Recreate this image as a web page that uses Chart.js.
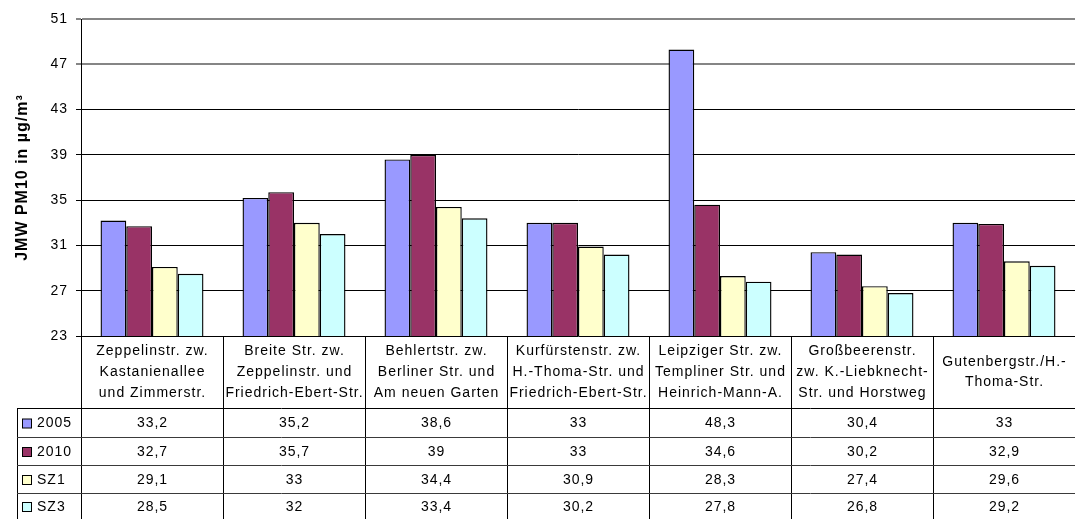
<!DOCTYPE html>
<html>
<head>
<meta charset="utf-8">
<script src="https://cdn.jsdelivr.net/npm/chart.js@4.4.0/dist/chart.umd.min.js"></script>
<style>
  body { margin: 0; background: #fff; }
  #pm10Chart { display: block; }
</style>
</head>
<body>
<canvas id="pm10Chart" width="1075" height="519"></canvas>
<script>
// street sections (multi-line labels as in the table header)
const streets = [
    ['Zeppelinstr. zw.', 'Kastanienallee', 'und Zimmerstr.'],
    ['Breite Str. zw.', 'Zeppelinstr. und', 'Friedrich-Ebert-Str.'],
    ['Behlertstr. zw.', 'Berliner Str. und', 'Am neuen Garten'],
    ['Kurfürstenstr. zw.', 'H.-Thoma-Str. und', 'Friedrich-Ebert-Str.'],
    ['Leipziger Str. zw.', 'Templiner Str. und', 'Heinrich-Mann-A.'],
    ['Großbeerenstr.', 'zw. K.-Liebknecht-', 'Str. und Horstweg'],
    ['Gutenbergstr./H.-', 'Thoma-Str.']
];

const values2005 = [33.2, 35.2, 38.6, 33, 48.3, 30.4, 33];
const values2010 = [32.7, 35.7, 39, 33, 34.6, 30.2, 32.9];
const valuesSZ1 = [29.1, 33, 34.4, 30.9, 28.3, 27.4, 29.6];
const valuesSZ3 = [28.5, 32, 33.4, 30.2, 27.8, 26.8, 29.2];

const yMin = 23;
const yMax = 51;
const yStep = 4;

const COLORS = {
    y2005: '#9999FF',
    y2010: '#993366',
    sz1: '#FFFFCC',
    sz3: '#CCFFFF',
};

const FONT = '"Liberation Sans", Arial, sans-serif';

// excel style spaced text everywhere
const spacingPlugin = {
    id: 'spacing',
    beforeDraw(chart) {
        chart.ctx.letterSpacing = '1px';
    }
};

// data table under the plot, columns follow the x scale
const dataTablePlugin = {
    id: 'dataTable',
    afterDraw(chart) {
        const ctx = chart.ctx;
        const x = chart.scales.x;
        const area = chart.chartArea;
        const colW = (x.right - x.left) / streets.length;
        const headTop = area.bottom;
        const headBottom = 408;
        const rowLines = [408, 437, 465, 493, 519];
        const tableLeft = 17;

        ctx.save();
        ctx.letterSpacing = '1px';

        // grid of the table
        ctx.lineWidth = 1;
        ctx.strokeStyle = '#000';
        for (let i = 0; i <= streets.length; i++) {
            const lx = Math.round(x.left + i * colW) + 0.5;
            ctx.beginPath();
            ctx.moveTo(lx, headTop);
            ctx.lineTo(lx, 519);
            ctx.stroke();
        }
        ctx.beginPath();
        ctx.moveTo(tableLeft + 0.5, headBottom);
        ctx.lineTo(tableLeft + 0.5, 519);
        ctx.stroke();

        rowLines.forEach((ly, i) => {
            ctx.strokeStyle = i === 0 ? '#000' : '#3a3a3a';
            ctx.beginPath();
            ctx.moveTo(tableLeft, ly + 0.5);
            ctx.lineTo(x.right, ly + 0.5);
            ctx.stroke();
        });

        // street labels
        ctx.fillStyle = '#000';
        ctx.font = '14px ' + FONT;
        ctx.textAlign = 'center';
        ctx.textBaseline = 'middle';
        const lineH = 20.7;
        const headMid = (headTop + headBottom) / 2;
        streets.forEach((lines, i) => {
            const cx = x.getPixelForValue(i) + 0.5;
            const y0 = headMid - (lines.length - 1) * lineH / 2;
            lines.forEach((t, j) => ctx.fillText(t, cx, y0 + j * lineH));
        });

        // series rows
        chart.data.datasets.forEach((ds, r) => {
            const cy = (rowLines[r] + rowLines[r + 1]) / 2 + 1;
            ctx.fillStyle = ds.backgroundColor;
            ctx.fillRect(22.5, cy - 4.5, 9, 9);
            ctx.strokeStyle = '#000';
            ctx.strokeRect(22.5, cy - 4.5, 9, 9);

            ctx.fillStyle = '#000';
            ctx.textAlign = 'left';
            ctx.fillText(ds.label, 37, cy);

            ctx.textAlign = 'center';
            ds.data.forEach((v, i) => {
                const cx = x.getPixelForValue(i) + 0.5;
                ctx.fillText(String(v).replace('.', ','), cx, cy);
            });
        });

        ctx.restore();
    }
};

const ctx = document.getElementById('pm10Chart');

const pm10Config = {
    type: 'bar',
    data: {
        labels: streets.map(s => s.join(' ')),
        datasets: [
            { label: '2005', data: values2005, backgroundColor: COLORS.y2005 },
            { label: '2010', data: values2010, backgroundColor: COLORS.y2010 },
            { label: 'SZ1', data: valuesSZ1, backgroundColor: COLORS.sz1 },
            { label: 'SZ3', data: valuesSZ3, backgroundColor: COLORS.sz3 },
        ].map(ds => Object.assign(ds, {
            borderColor: '#000',
            borderWidth: 1.4,
            borderSkipped: 'bottom',
            categoryPercentage: 0.725,
            barPercentage: 1,
        }))
    },
    options: {
        responsive: false,
        animation: false,
        events: [],
        layout: {
            padding: { top: 19, right: 0, bottom: 0, left: 0 }
        },
        plugins: {
            legend: { display: false },
            title: { display: false },
            tooltip: { enabled: false }
        },
        scales: {
            x: {
                offset: true,
                grid: { display: false },
                border: { display: false },
                ticks: { display: false },
                afterFit(scale) {
                    scale.height = 519 - 336;
                }
            },
            y: {
                min: yMin,
                max: yMax,
                grid: {
                    // the two top lines are grey and a bit heavier in the original
                    color: c => (c.tick && c.tick.value >= 47 ? '#858585' : '#000'),
                    lineWidth: c => (c.tick && c.tick.value >= 47 ? 2 : 1),
                    tickLength: 5,
                    drawTicks: true
                },
                border: { display: true, color: '#000', width: 1 },
                ticks: {
                    stepSize: yStep,
                    color: '#000',
                    padding: 8,
                    font: { family: FONT, size: 14 }
                },
                title: {
                    display: true,
                    text: 'JMW PM10 in µg/m³',
                    color: '#000',
                    font: { family: FONT, size: 16, weight: 'bold' },
                    padding: { top: 13, bottom: 0 }
                },
                afterFit(scale) {
                    scale.width = 81;
                }
            }
        }
    },
    plugins: [spacingPlugin, dataTablePlugin]
};

const pm10Chart = new Chart(ctx, pm10Config);
</script>
</body>
</html>
